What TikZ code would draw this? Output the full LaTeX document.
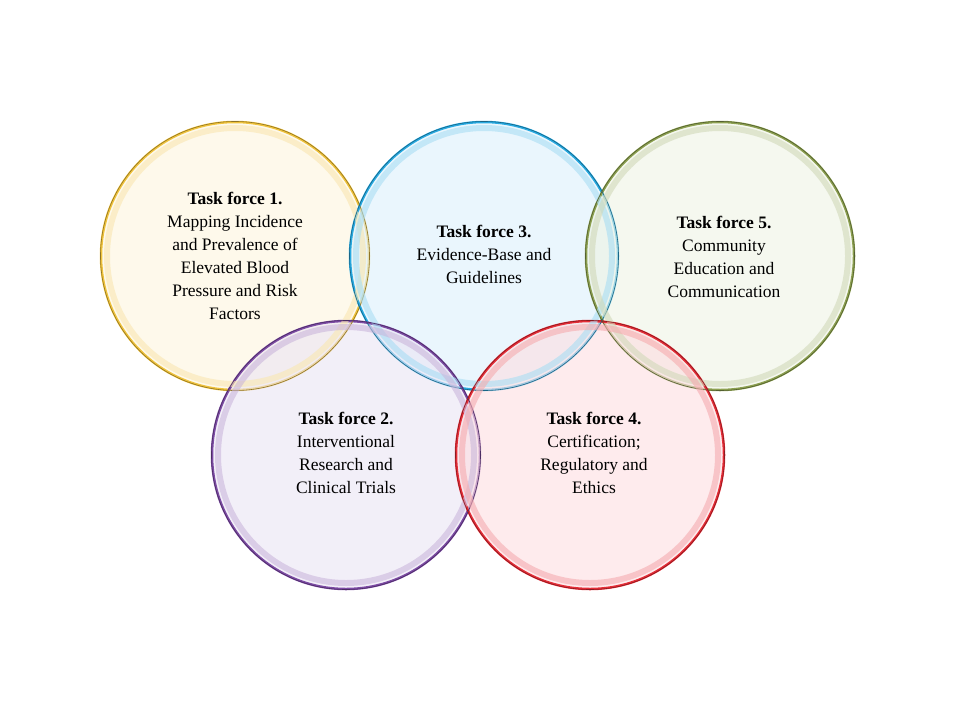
\documentclass[tikz,border=0pt]{standalone}
\usepackage{fontspec}
\setmainfont{Liberation Serif}
\begin{document}
\begin{tikzpicture}[x=1pt,y=-1pt,
  ring/.style={circle,minimum size=268pt,line width=2.5pt,fill opacity=0.6,text opacity=1},
  lbl/.style={align=center,font=\fontsize{17.5}{23}\selectfont}]
\useasboundingbox (0,0) rectangle (960,720);
\definecolor{cy}{RGB}{240,195,60}\definecolor{fy}{RGB}{253,245,222}
\definecolor{cb}{RGB}{40,170,225}\definecolor{fb}{RGB}{220,240,252}
\definecolor{cg}{RGB}{140,160,80}\definecolor{fg}{RGB}{238,243,228}
\definecolor{cp}{RGB}{125,75,165}\definecolor{fp}{RGB}{234,228,244}
\definecolor{cr}{RGB}{230,45,55}\definecolor{fr}{RGB}{253,222,225}
\node[ring,draw=cy,fill=fy] (c1) at (235,256) {};
\node[ring,draw=cb,fill=fb] (c3) at (484,256) {};
\node[ring,draw=cg,fill=fg] (c5) at (720,256) {};
\node[ring,draw=cp,fill=fp] (c2) at (346,455) {};
\node[ring,draw=cr,fill=fr] (c4) at (590,455) {};
\foreach \n/\c in {c1/cy,c3/cb,c5/cg,c2/cp,c4/cr}{
  \draw[\c!40!white,line width=6pt,opacity=0.6] (\n.center) circle (128pt);
  \draw[\c!60!black,line width=0.6pt] (\n.center) circle (134.5pt);}
\node[lbl] (t1) at (235,256) {\textbf{Task force 1.}\\Mapping Incidence\\and Prevalence of\\Elevated Blood\\Pressure and Risk\\Factors};
\node[lbl] (t3) at (484,254) {\textbf{Task force 3.}\\Evidence-Base and\\Guidelines};
\node[lbl] (t5) at (724,257) {\textbf{Task force 5.}\\Community\\Education and\\Communication};
\node[lbl] (t2) at (346,453) {\textbf{Task force 2.}\\Interventional\\Research and\\Clinical Trials};
\node[lbl] (t4) at (594,453) {\textbf{Task force 4.}\\Certification;\\Regulatory and\\Ethics};
\end{tikzpicture}
\end{document}
